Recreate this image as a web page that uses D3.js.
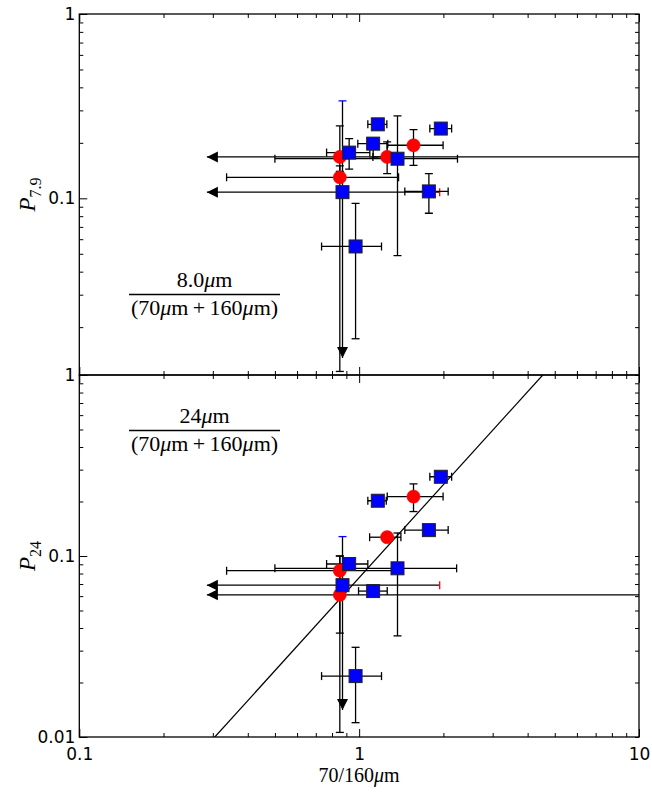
<!DOCTYPE html>
<html>
<head>
<meta charset="utf-8">
<script src="https://cdn.jsdelivr.net/npm/d3@7"></script>
<style>
  body { margin: 0; background: #fff; }
  svg { display: block; }
</style>
</head>
<body>
<svg id="chart" width="652" height="792"></svg>
<script>
// tick labels
const xTickValues = [0.1, 1, 10];
const topTickValues = [1, 0.1];
const bottomTickValues = [1, 0.1, 0.01];

// P_7.9 panel, squares and circles (x = 70/160 ratio, y = P)
// xlim / ylim: tip of an upper-limit arrow
const topSquares = [
  { x: 1.166, y: 0.252, xlo: 1.074, xhi: 1.256 },
  { x: 1.958, y: 0.239, xlo: 1.789, xhi: 2.14 },
  { x: 1.122, y: 0.198, xlo: 0.989, xhi: 1.266, ylo: 0.165, yhi: 0.212 },
  { x: 0.921, y: 0.177, xlo: 0.765, xhi: 1.092, ylo: 0.144, yhi: 0.211 },
  { x: 1.371, y: 0.164, xlo: 0.5, xhi: 2.246, ylo: 0.0489, yhi: 0.28 },
  { x: 0.872, y: 0.108, xlim: 0.2857, xhi: 1.94, ylim: 0.0136, yhi: 0.338, xhiCap: "#f00", yhiCap: "#00f" },
  { x: 1.775, y: 0.109, xlo: 1.456, xhi: 2.08, ylo: 0.083, yhi: 0.136 },
  { x: 0.971, y: 0.0548, xlo: 0.734, xhi: 1.202, ylo: 0.0173, yhi: 0.0938 }
];
const topCircles = [
  { x: 0.853, y: 0.1677, xlim: 0.2857, xhi: 12, ylo: 0.14, yhi: 0.247 },
  { x: 1.259, y: 0.1677, xlo: 1.12, xhi: 1.4, ylo: 0.136, yhi: 0.2023 },
  { x: 1.564, y: 0.194, xlo: 1.26, xhi: 1.995, ylo: 0.151, yhi: 0.236 },
  { x: 0.853, y: 0.130, xlo: 0.336, xhi: 1.383, ylo: 0.0115, yhi: 0.15 }
];

// P_24 panel
const bottomSquares = [
  { x: 1.958, y: 0.274, xlo: 1.789, xhi: 2.14 },
  { x: 1.166, y: 0.202, xlo: 1.074, xhi: 1.25 },
  { x: 1.775, y: 0.139, xlo: 1.456, xhi: 2.08, ylo: 0.134, yhi: 0.144 },
  { x: 0.921, y: 0.0903, xlo: 0.765, xhi: 1.074, ylo: 0.086, yhi: 0.095 },
  { x: 1.371, y: 0.0855, xlo: 0.5, xhi: 2.23, ylo: 0.0362, yhi: 0.134 },
  { x: 0.872, y: 0.069, xlim: 0.2857, xhi: 1.94, ylim: 0.0141, yhi: 0.128, xhiCap: "#f00", yhiCap: "#00f" },
  { x: 1.122, y: 0.064, xlo: 0.995, xhi: 1.26, ylo: 0.061, yhi: 0.067 },
  { x: 0.971, y: 0.0217, xlo: 0.734, xhi: 1.202, ylo: 0.012, yhi: 0.0313 }
];
const bottomCircles = [
  { x: 1.564, y: 0.213, xlo: 1.26, xhi: 1.995, ylo: 0.176, yhi: 0.25 },
  { x: 1.259, y: 0.127, xlo: 1.09, xhi: 1.41 },
  { x: 0.853, y: 0.083, xlo: 0.336, xhi: 1.383, ylo: 0.0106, yhi: 0.1 },
  { x: 0.853, y: 0.061, xlim: 0.2857, xhi: 12, ylo: 0.0375, yhi: 0.1 }
];

// power-law line in the lower panel (two end points)
const fitLine = [[0.305, 0.01], [4.53, 1]];

const svg = d3.select("#chart");
const left = 79.3, right = 639;
const x = d3.scaleLog().domain([0.1, 10]).range([left, right]);
const yTop = d3.scaleLog().domain([0.011, 1]).range([375, 14]);
const yBottom = d3.scaleLog().domain([0.01, 1]).range([737, 375]);

const serif = "'Liberation Serif', 'DejaVu Serif', serif";
const sans = "'DejaVu Sans', sans-serif";

/**
 * Error bars with caps, plus arrows for upper limits
 */
function drawErrors(g, y, pts) {
  const cap = 4;
  pts.forEach(function (p) {
    const cy = y(p.y), cx = x(p.x);
    // horizontal
    let x0 = p.xlim ? x(p.xlim) : (p.xlo ? x(p.xlo) : null);
    let x1 = p.xhi ? x(p.xhi) : null;
    if (x0 != null && x1 != null) {
      g.append("line").attr("x1", x0).attr("x2", x1).attr("y1", cy).attr("y2", cy)
        .attr("stroke", "#000").attr("stroke-width", 1.3);
      if (p.xlim) {
        g.append("path")
          .attr("d", `M${x0},${cy}L${x0 + 11},${cy - 5.5}L${x0 + 11},${cy + 5.5}Z`)
          .attr("fill", "#000");
      } else {
        g.append("line").attr("x1", x0).attr("x2", x0).attr("y1", cy - cap).attr("y2", cy + cap)
          .attr("stroke", "#000").attr("stroke-width", 1.3);
      }
      g.append("line").attr("x1", x1).attr("x2", x1).attr("y1", cy - cap).attr("y2", cy + cap)
        .attr("stroke", p.xhiCap || "#000").attr("stroke-width", 1.3);
    }
    // vertical
    let y0 = p.ylim ? y(p.ylim) : (p.ylo ? y(p.ylo) : null);
    let y1 = p.yhi ? y(p.yhi) : null;
    if (y0 != null && y1 != null) {
      g.append("line").attr("x1", cx).attr("x2", cx).attr("y1", y0).attr("y2", y1)
        .attr("stroke", "#000").attr("stroke-width", 1.3);
      if (p.ylim) {
        g.append("path")
          .attr("d", `M${cx},${y0}L${cx - 5.5},${y0 - 11}L${cx + 5.5},${y0 - 11}Z`)
          .attr("fill", "#000");
      } else {
        g.append("line").attr("x1", cx - cap).attr("x2", cx + cap).attr("y1", y0).attr("y2", y0)
          .attr("stroke", "#000").attr("stroke-width", 1.3);
      }
      g.append("line").attr("x1", cx - cap).attr("x2", cx + cap).attr("y1", y1).attr("y2", y1)
        .attr("stroke", p.yhiCap || "#000").attr("stroke-width", 1.3);
    }
  });
}

function drawPanel(id, y, squares, circles, yTicks, top, bottom) {
  const clipId = "clip-" + id;
  svg.append("clipPath").attr("id", clipId)
    .append("rect").attr("x", left).attr("y", top).attr("width", right - left).attr("height", bottom - top);

  const g = svg.append("g").attr("clip-path", `url(#${clipId})`);
  drawErrors(g, y, circles.concat(squares));

  if (id == "bottom") {
    g.append("path")
      .datum(fitLine)
      .attr("d", d3.line().x(d => x(d[0])).y(d => y(d[1])))
      .attr("stroke", "#000").attr("stroke-width", 1.2).attr("fill", "none");
  }

  g.selectAll(".circ").data(circles).enter().append("circle")
    .attr("cx", d => x(d.x)).attr("cy", d => y(d.y)).attr("r", 6.6)
    .attr("fill", "#ff0000").attr("stroke", "#e00").attr("stroke-width", 0.5);

  g.selectAll(".sq").data(squares).enter().append("rect")
    .attr("x", d => x(d.x) - 6.5).attr("y", d => y(d.y) - 6.5)
    .attr("width", 13).attr("height", 13)
    .attr("fill", "#0000ff").attr("stroke", "#222").attr("stroke-width", 1);

  // minor and major ticks, inward
  const xMinor = x.ticks().filter(v => !xTickValues.includes(v));
  const yMinor = y.ticks().filter(v => !yTicks.includes(v) && v < 1);

  const axisLeft = d3.axisLeft(y).tickValues(yTicks).tickFormat(d3.format(""))
    .tickSizeInner(-8).tickSizeOuter(0).tickPadding(4);
  const gl = svg.append("g").attr("transform", `translate(${left},0)`).call(axisLeft);
  gl.select(".domain").remove();
  gl.selectAll("text").attr("font-family", sans).attr("font-size", 17).attr("fill", "#000");
  svg.append("g").attr("transform", `translate(${left},0)`)
    .call(d3.axisLeft(y).tickValues(yMinor).tickFormat("").tickSizeInner(-4).tickSizeOuter(0))
    .select(".domain").remove();

  const gr = svg.append("g").attr("transform", `translate(${right},0)`)
    .call(d3.axisRight(y).tickValues(yTicks.concat(yMinor)).tickFormat("")
      .tickSize(-4).tickSizeOuter(0));
  gr.select(".domain").remove();

  [top, bottom].forEach(function (yy, i) {
    const ax = (i == 0 ? d3.axisTop(x) : d3.axisBottom(x)).tickFormat("").tickSizeOuter(0);
    svg.append("g").attr("transform", `translate(0,${yy})`)
      .call(ax.tickValues(xMinor).tickSizeInner(-4)).select(".domain").remove();
    svg.append("g").attr("transform", `translate(0,${yy})`)
      .call((i == 0 ? d3.axisTop(x) : d3.axisBottom(x)).tickValues(xTickValues).tickFormat("")
        .tickSizeInner(-8).tickSizeOuter(0)).select(".domain").remove();
  });

  svg.append("rect").attr("x", left).attr("y", top).attr("width", right - left).attr("height", bottom - top)
    .attr("fill", "none").attr("stroke", "#000").attr("stroke-width", 1.3);
}

drawPanel("top", yTop, topSquares, topCircles, topTickValues, 14, 375);
drawPanel("bottom", yBottom, bottomSquares, bottomCircles, bottomTickValues, 375, 737);

// x tick labels
const gx = svg.append("g").attr("transform", "translate(0,737)")
  .call(d3.axisBottom(x).tickValues(xTickValues).tickFormat(d3.format("")).tickSize(0).tickPadding(11));
gx.select(".domain").remove();
gx.selectAll("text").attr("font-family", sans).attr("font-size", 17).attr("fill", "#000");

// axis titles
svg.append("text").attr("x", 359).attr("y", 782).attr("text-anchor", "middle")
  .attr("font-family", serif).attr("font-size", 20)
  .call(t => {
    t.append("tspan").text("70/160");
    t.append("tspan").attr("font-style", "italic").text("\u03bc");
    t.append("tspan").text("m");
  });

function yTitle(cy, sub) {
  const t = svg.append("text")
    .attr("transform", `translate(35,${cy}) rotate(-90)`)
    .attr("text-anchor", "middle").attr("font-family", serif);
  t.append("tspan").attr("font-style", "italic").attr("font-size", 23).text("P");
  t.append("tspan").attr("font-size", 16).attr("dy", 6).text(sub);
}
yTitle(194.5, "7.9");
yTitle(556, "24");

// fraction labels
function fraction(barY, num) {
  const cx = 204.5;
  svg.append("line").attr("x1", 129).attr("x2", 280).attr("y1", barY).attr("y2", barY)
    .attr("stroke", "#000").attr("stroke-width", 1.3);
  svg.append("text").attr("x", cx).attr("y", barY - 8).attr("text-anchor", "middle")
    .attr("font-family", serif).attr("font-size", 22)
    .call(t => {
      t.append("tspan").text(num);
      t.append("tspan").attr("font-style", "italic").text("\u03bc");
      t.append("tspan").text("m");
    });
  svg.append("text").attr("x", cx).attr("y", barY + 20).attr("text-anchor", "middle")
    .attr("font-family", serif).attr("font-size", 22)
    .call(t => {
      t.append("tspan").text("(70");
      t.append("tspan").attr("font-style", "italic").text("\u03bc");
      t.append("tspan").text("m\u2009+\u2009160");
      t.append("tspan").attr("font-style", "italic").text("\u03bc");
      t.append("tspan").text("m)");
    });
}
fraction(294.5, "8.0");
fraction(430.5, "24");
</script>
</body>
</html>
